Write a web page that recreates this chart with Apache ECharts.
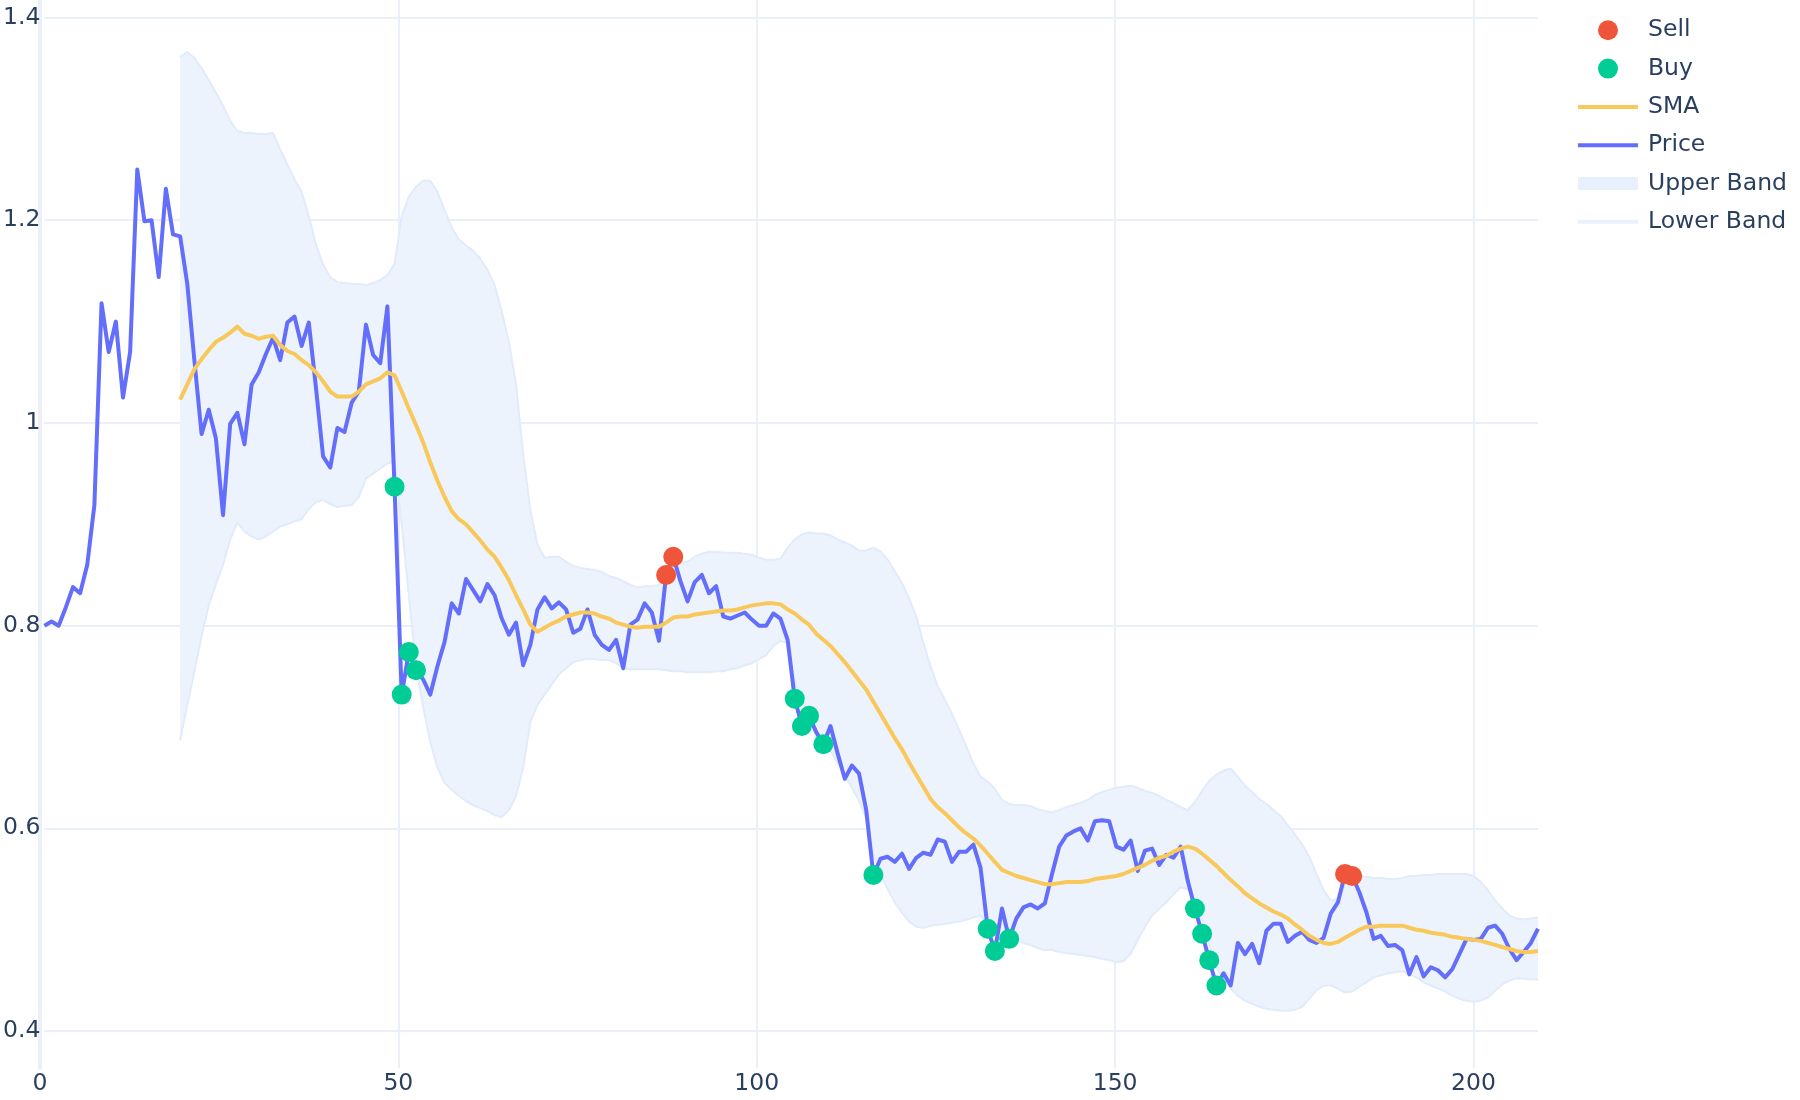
<!DOCTYPE html>
<html>
<head>
<meta charset="utf-8">
<script src="https://cdn.jsdelivr.net/npm/echarts@6/dist/echarts.min.js"></script>
<style>html,body{margin:0;padding:0;background:#fff}#c{width:1800px;height:1100px}</style>
</head>
<body>
<div id="c"></div>
<script>
// ---- data ----
const price = [
0.800,0.804,0.800,0.818,0.838,0.832,0.860,0.919,1.118,1.070,
1.100,1.025,1.070,1.250,1.199,1.200,1.144,1.231,1.186,1.184,
1.137,1.061,0.989,1.013,0.985,0.909,0.999,1.010,0.979,1.038,
1.050,1.068,1.084,1.062,1.099,1.105,1.076,1.099,1.035,0.967,
0.956,0.995,0.991,1.020,1.031,1.097,1.067,1.059,1.115,0.937,
0.732,0.774,0.756,0.747,0.732,0.760,0.784,0.822,0.812,0.846,
0.835,0.824,0.841,0.830,0.807,0.791,0.803,0.761,0.781,0.816,
0.828,0.817,0.823,0.816,0.793,0.797,0.816,0.791,0.781,0.776,
0.786,0.758,0.801,0.806,0.822,0.813,0.785,0.850,0.868,0.844,
0.824,0.843,0.850,0.832,0.839,0.809,0.807,0.810,0.813,0.806,
0.800,0.800,0.812,0.807,0.786,0.728,0.701,0.711,0.695,0.683,
0.701,0.674,0.649,0.662,0.654,0.618,0.554,0.570,0.572,0.567,
0.575,0.560,0.571,0.576,0.574,0.589,0.587,0.567,0.577,0.577,
0.584,0.561,0.501,0.479,0.521,0.491,0.511,0.522,0.525,0.521,
0.526,0.555,0.582,0.593,0.597,0.600,0.588,0.607,0.608,0.607,
0.582,0.579,0.588,0.558,0.578,0.580,0.564,0.574,0.571,0.582,
0.548,0.521,0.496,0.470,0.445,0.457,0.445,0.487,0.476,0.486,
0.467,0.499,0.506,0.506,0.488,0.494,0.498,0.490,0.487,0.492,
0.516,0.527,0.555,0.553,0.537,0.517,0.491,0.494,0.484,0.485,
0.480,0.456,0.473,0.454,0.463,0.460,0.453,0.461,0.476,0.491,
0.490,0.491,0.502,0.504,0.496,0.481,0.470,0.478,0.487,0.501
];
const sma = [
null,null,null,null,null,null,null,null,null,null,
null,null,null,null,null,null,null,null,null,1.023,
1.038,1.053,1.063,1.072,1.080,1.084,1.089,1.095,1.088,1.086,
1.083,1.085,1.086,1.077,1.071,1.068,1.062,1.057,1.050,1.041,
1.031,1.026,1.026,1.026,1.031,1.038,1.041,1.044,1.050,1.047,
1.031,1.014,0.998,0.981,0.961,0.943,0.927,0.913,0.905,0.900,
0.892,0.884,0.875,0.868,0.857,0.845,0.830,0.816,0.801,0.794,
0.798,0.802,0.805,0.809,0.811,0.813,0.813,0.812,0.809,0.807,
0.803,0.801,0.799,0.798,0.799,0.799,0.799,0.803,0.808,0.809,
0.809,0.811,0.812,0.813,0.814,0.815,0.815,0.816,0.818,0.820,
0.821,0.822,0.822,0.821,0.816,0.812,0.806,0.801,0.792,0.786,
0.780,0.772,0.764,0.755,0.746,0.737,0.725,0.713,0.701,0.689,
0.678,0.665,0.653,0.641,0.629,0.621,0.615,0.608,0.601,0.595,
0.590,0.583,0.575,0.567,0.559,0.556,0.553,0.551,0.549,0.547,
0.545,0.545,0.546,0.547,0.547,0.547,0.548,0.550,0.551,0.552,
0.553,0.555,0.558,0.561,0.564,0.568,0.571,0.573,0.577,0.580,
0.582,0.580,0.575,0.569,0.563,0.556,0.549,0.543,0.536,0.531,
0.526,0.522,0.518,0.515,0.511,0.505,0.500,0.494,0.490,0.487,
0.486,0.488,0.492,0.496,0.500,0.503,0.503,0.504,0.504,0.504,
0.504,0.502,0.500,0.499,0.497,0.496,0.495,0.493,0.492,0.491,
0.490,0.489,0.487,0.485,0.483,0.481,0.479,0.478,0.478,0.479
];
const upperBand = [
null,null,null,null,null,null,null,null,null,null,
null,null,null,null,null,null,null,null,null,1.361,
1.366,1.360,1.350,1.338,1.326,1.313,1.298,1.288,1.286,1.286,
1.285,1.285,1.286,1.270,1.255,1.240,1.228,1.204,1.176,1.156,
1.144,1.139,1.138,1.137,1.137,1.136,1.138,1.141,1.146,1.157,
1.204,1.223,1.233,1.239,1.239,1.228,1.210,1.193,1.181,1.175,
1.170,1.162,1.151,1.136,1.110,1.080,1.038,0.969,0.914,0.880,
0.867,0.868,0.868,0.863,0.859,0.857,0.856,0.855,0.853,0.849,
0.847,0.844,0.840,0.838,0.839,0.839,0.840,0.846,0.858,0.862,
0.863,0.868,0.871,0.873,0.873,0.872,0.872,0.872,0.871,0.870,
0.867,0.865,0.865,0.866,0.877,0.885,0.890,0.892,0.891,0.891,
0.889,0.885,0.882,0.879,0.874,0.874,0.877,0.873,0.865,0.854,
0.842,0.827,0.809,0.783,0.760,0.740,0.727,0.713,0.697,0.681,
0.664,0.651,0.646,0.639,0.628,0.624,0.623,0.623,0.622,0.619,
0.617,0.616,0.618,0.621,0.623,0.625,0.628,0.633,0.636,0.638,
0.640,0.641,0.642,0.640,0.637,0.635,0.632,0.628,0.625,0.621,
0.618,0.626,0.637,0.647,0.653,0.657,0.659,0.651,0.642,0.636,
0.629,0.624,0.618,0.612,0.603,0.594,0.584,0.572,0.555,0.539,
0.529,0.530,0.545,0.550,0.553,0.552,0.551,0.551,0.550,0.550,
0.551,0.553,0.553,0.554,0.554,0.555,0.555,0.555,0.555,0.555,
0.553,0.547,0.539,0.529,0.521,0.514,0.511,0.510,0.511,0.512
];
const lowerBand = [
null,null,null,null,null,null,null,null,null,null,
null,null,null,null,null,null,null,null,null,0.687,
0.722,0.755,0.790,0.820,0.841,0.860,0.885,0.902,0.893,0.888,
0.885,0.888,0.893,0.898,0.900,0.903,0.905,0.915,0.922,0.924,
0.920,0.917,0.918,0.919,0.927,0.945,0.950,0.955,0.960,0.962,
0.900,0.830,0.760,0.720,0.685,0.660,0.645,0.638,0.632,0.627,
0.623,0.620,0.617,0.613,0.611,0.618,0.632,0.660,0.705,0.722,
0.732,0.742,0.752,0.758,0.764,0.766,0.767,0.767,0.766,0.766,
0.763,0.758,0.757,0.757,0.757,0.757,0.757,0.756,0.755,0.755,
0.754,0.754,0.754,0.754,0.755,0.755,0.757,0.758,0.761,0.763,
0.767,0.771,0.780,0.785,0.783,0.745,0.725,0.714,0.690,0.686,
0.676,0.665,0.652,0.640,0.627,0.610,0.575,0.555,0.540,0.527,
0.517,0.508,0.503,0.502,0.504,0.505,0.506,0.507,0.508,0.510,
0.512,0.514,0.505,0.495,0.494,0.493,0.490,0.487,0.485,0.482,
0.480,0.480,0.478,0.477,0.476,0.475,0.474,0.473,0.471,0.470,
0.468,0.469,0.476,0.490,0.503,0.514,0.521,0.527,0.535,0.542,
0.540,0.529,0.509,0.486,0.463,0.452,0.442,0.435,0.430,0.427,
0.424,0.422,0.421,0.420,0.420,0.421,0.424,0.432,0.440,0.445,
0.445,0.442,0.438,0.439,0.444,0.448,0.453,0.455,0.457,0.458,
0.459,0.456,0.453,0.448,0.445,0.442,0.439,0.435,0.432,0.430,
0.429,0.430,0.433,0.440,0.446,0.450,0.452,0.452,0.451,0.451
];
const buyIdx  = [49,50,51,52,105,106,107,109,116,132,133,135,161,162,163,164];
const sellIdx = [87,88,182,183];
const xTickLabels = [0,50,100,150,200];
const yTickLabels = [0.4,0.6,0.8,1,1.2,1.4];

// ---- build library tables ----
const pairs = arr => arr.map((v,i)=>[i,v]).filter(p=>p[1]!=null);
const bandRows = upperBand.map((v,i)=>[i, v, lowerBand[i]]).filter(r=>r[1]!=null && r[2]!=null);
const buyPts = buyIdx.map(i=>[i, price[i]]);
const sellPts = sellIdx.map(i=>[i, price[i]]);

const FONT = 'DejaVu Sans';
const TXT = '#2a3f5f';
const GRIDC = '#EBF0F8';
const C_PRICE = '#636EFA', C_SMA = '#F9C85A', C_BUY = '#00CC96', C_SELL = '#EF553B';
const C_FILL = '#EDF3FD', C_BANDLINE = '#E2EBFA';
const L = 40, W = 1498;

const chart = echarts.init(document.getElementById('c'), null, {renderer:'canvas'});
chart.setOption({
  animation:false,
  backgroundColor:'#ffffff',
  grid:[
    {left:L, width:W, top:0, height:1068, containLabel:false},
    {left:L, width:W, top:17.5, height:1013.6, containLabel:false}
  ],
  xAxis:[
    {gridIndex:0, type:'value', min:0, max:209, interval:50,
     axisLine:{show:false}, axisTick:{show:false},
     splitLine:{show:true, showMaxLine:false, lineStyle:{color:GRIDC, width:2}},
     axisLabel:{color:TXT, fontSize:23.5, fontFamily:FONT, margin:4,
       formatter:v=> xTickLabels.indexOf(v)>=0 ? String(v) : ''}},
    {gridIndex:1, type:'value', min:0, max:209, show:false}
  ],
  yAxis:[
    {gridIndex:0, type:'value', min:0, max:1,
     axisLine:{show:true, lineStyle:{color:GRIDC, width:4}},
     axisTick:{show:false}, axisLabel:{show:false}, splitLine:{show:false}},
    {gridIndex:1, type:'value', min:yTickLabels[0], max:yTickLabels[yTickLabels.length-1], interval:0.2,
     axisLine:{show:false}, axisTick:{show:false},
     splitLine:{show:true, lineStyle:{color:GRIDC, width:2}},
     axisLabel:{color:TXT, fontSize:23.5, fontFamily:FONT, margin:4,
       formatter:v=>{ const r=Math.round(v*10)/10; return yTickLabels.indexOf(r)>=0 ? String(r) : ''; }}}
  ],
  legend:{
    orient:'vertical', left:1578, top:18.3, padding:0,
    itemWidth:60, itemHeight:20, itemGap:14.3,
    textStyle:{color:TXT, fontSize:23.5, fontFamily:FONT, lineHeight:24, padding:[0,0,0,5]},
    data:[
      {name:'Sell', icon:'circle', itemStyle:{color:C_SELL, borderWidth:0}},
      {name:'Buy', icon:'circle', itemStyle:{color:C_BUY, borderWidth:0}},
      {name:'SMA', icon:'path://M0,0L60,0L60,4L0,4Z', itemStyle:{color:C_SMA, borderWidth:0}},
      {name:'Price', icon:'path://M0,0L60,0L60,4L0,4Z', itemStyle:{color:C_PRICE, borderWidth:0}},
      {name:'Upper Band', icon:'path://M0,0L60,0L60,13L0,13Z', itemStyle:{color:'#E8F0FD', borderWidth:0}},
      {name:'Lower Band', icon:'path://M0,0L60,0L60,4L0,4Z', itemStyle:{color:'#EBF1FB', borderWidth:0}}
    ]
  },
  series:[
    {name:'Upper Band', type:'custom', xAxisIndex:1, yAxisIndex:1, z:1,
     data:bandRows, encode:{x:0, y:[1,2]}, silent:true,
     renderItem:(params, api)=>{
       if (params.dataIndex !== 0) return null;
       const top = bandRows.map(r=>api.coord([r[0], r[1]]));
       const bot = bandRows.slice().reverse().map(r=>api.coord([r[0], r[2]]));
       return {type:'polygon', shape:{points:top.concat(bot)}, style:{fill:C_FILL, stroke:null}};
     }},
    {name:'Lower Band', type:'line', xAxisIndex:1, yAxisIndex:1,
     data:pairs(lowerBand), showSymbol:false, symbol:'none',
     lineStyle:{color:C_BANDLINE, width:2}, itemStyle:{color:C_BANDLINE}, z:2},
    {name:'Upper Band', type:'line', xAxisIndex:1, yAxisIndex:1,
     data:pairs(upperBand), showSymbol:false, symbol:'none',
     lineStyle:{color:C_BANDLINE, width:2}, itemStyle:{color:C_BANDLINE}, z:2},
    {name:'Price', type:'line', xAxisIndex:1, yAxisIndex:1,
     data:pairs(price), showSymbol:false, symbol:'none',
     lineStyle:{color:C_PRICE, width:4, join:'round'}, itemStyle:{color:C_PRICE}, z:3},
    {name:'SMA', type:'line', xAxisIndex:1, yAxisIndex:1,
     data:pairs(sma), showSymbol:false, symbol:'none',
     lineStyle:{color:C_SMA, width:4, join:'round'}, itemStyle:{color:C_SMA}, z:4},
    {name:'Buy', type:'scatter', xAxisIndex:1, yAxisIndex:1,
     data:buyPts, symbol:'circle', symbolSize:20, itemStyle:{color:C_BUY, opacity:1}, z:5},
    {name:'Sell', type:'scatter', xAxisIndex:1, yAxisIndex:1,
     data:sellPts, symbol:'circle', symbolSize:20, itemStyle:{color:C_SELL, opacity:1}, z:6}
  ]
});
</script>
</body>
</html>
